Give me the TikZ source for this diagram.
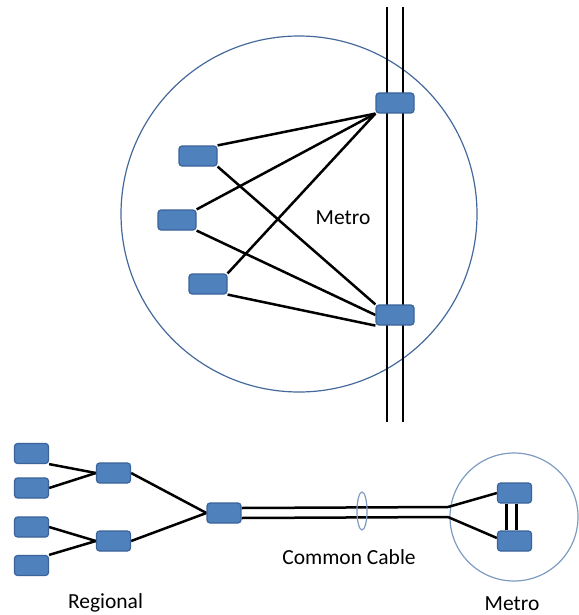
\documentclass[tikz,border=0pt]{standalone}
\usepackage{fontspec}
\setmainfont{Carlito}
\usetikzlibrary{backgrounds}
\definecolor{boxfill}{HTML}{4F81BD}
\definecolor{boxline}{HTML}{3A6399}
\definecolor{ringline}{HTML}{45699B}
\definecolor{ringlight}{HTML}{7E9BC2}
\tikzset{
  dev/.style={draw=boxline, fill=boxfill, line width=1.2pt, rounded corners=3pt,
    minimum width=38pt, minimum height=20pt, inner sep=0pt},
  devs/.style={dev, minimum width=34pt},
  wire/.style={line width=2.5pt, black},
  rail/.style={line width=2.6pt, black},
  label/.style={font=\fontsize{21.5}{25}\selectfont, inner sep=0pt},
}
\begin{document}
\begin{tikzpicture}[x=1pt, y=-1pt]
\useasboundingbox (0,0) rectangle (578,615);

% metro area (top)
\node[dev] (tr) at (395,103) {};
\node[dev] (br) at (395,315) {};
\node[dev] (b1) at (198,156) {};
\node[dev] (b2) at (177,220) {};
\node[dev] (b3) at (208,284) {};
\node[label] (metro) at (343,218) {Metro};
\coordinate (railtop) at (395,7);
\coordinate (railbot) at (395,422);

% regional network (bottom)
\node[devs] (l1) at (31.5,453.5) {};
\node[devs] (l2) at (31.5,488) {};
\node[devs] (l3) at (31.5,527) {};
\node[devs] (l4) at (31.5,565.5) {};
\node[devs] (m1) at (113.5,473) {};
\node[devs] (m2) at (113.5,541) {};
\node[devs] (hub) at (224,513) {};
\node[devs] (mt) at (514.5,493) {};
\node[devs] (mb) at (514.5,541) {};
\coordinate (cend) at (448,512);
\node[label] (cable) at (349,557) {Common Cable};
\node[label] (regional) at (105.5,603) {Regional};
\node[label] (metro2) at (512,604) {Metro};

\begin{scope}[on background layer]
  \draw[ringline, line width=1.2pt] (299,214) circle[radius=178];
  \draw[ringlight, line width=1.2pt] (514,517) circle[radius=64];
  % vertical double rail
  \draw[rail] ([xshift=-8pt]railtop) -- ([xshift=-8pt]railbot);
  \draw[rail] ([xshift=8pt]railtop) -- ([xshift=8pt]railbot);
  % mesh
  \draw[wire] (b1.north east) -- (tr.south west);
  \draw[wire] (b2.north east) -- (tr.south west);
  \draw[wire] (b3.north east) -- (tr.south west);
  \draw[wire] (b1.south east) -- (br.north west);
  \draw[wire] (b2.south east) -- (br.west);
  \draw[wire] (b3.south east) -- (br.south west);
  % tree
  \draw[wire] (l1.south east) -- (m1.west);
  \draw[wire] (l2.east) -- (m1.west);
  \draw[wire] (l3.east) -- (m2.west);
  \draw[wire] (l4.north east) -- (m2.west);
  \draw[wire] (m1.east) -- (hub.west);
  \draw[wire] (m2.east) -- (hub.west);
  % common cable
  \draw[wire] ([yshift=5pt]hub.east) -- ([yshift=5pt]cend);
  \draw[wire] ([yshift=-5pt]hub.east) -- ([yshift=-5pt]cend);
  \draw[wire] ([yshift=5pt]cend) -- (mt.west);
  \draw[wire] ([yshift=-5pt]cend) -- ([yshift=3pt]mb.west);
  \draw[wire] ([xshift=-8pt]mt.south) -- ([xshift=-8pt]mb.north);
  \draw[wire] ([xshift=2pt]mt.south) -- ([xshift=2pt]mb.north);
  \draw[ringlight, line width=1.2pt] (362,511) ellipse[x radius=5, y radius=19];
\end{scope}
\end{tikzpicture}
\end{document}
